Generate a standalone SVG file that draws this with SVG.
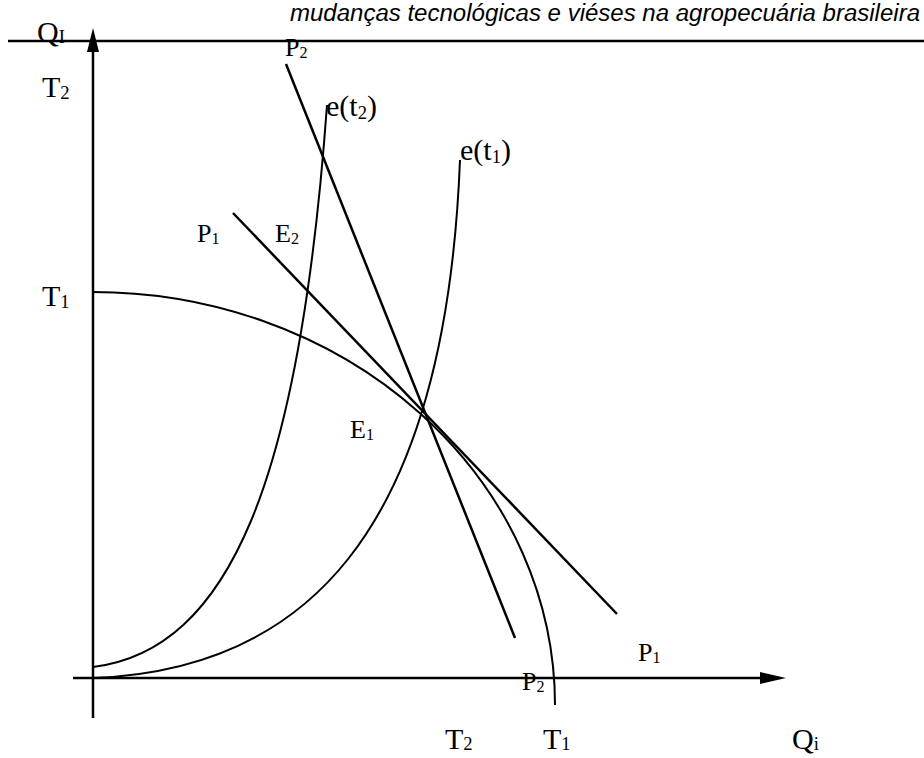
<svg xmlns="http://www.w3.org/2000/svg" width="924" height="758" viewBox="0 0 924 758">
<style>
.ln{fill:none;stroke:#000;stroke-width:2.5}
.cv{fill:none;stroke:#000;stroke-width:2}
.t{font-family:"Liberation Serif","Times New Roman",serif;fill:#000}
.s{font-size:0.62em}
.big{font-size:30px}
.med{font-size:26px}
</style>
<rect width="924" height="758" fill="#fff"/>
<text x="920" y="21" text-anchor="end" font-family="Liberation Sans, Arial, sans-serif" font-style="italic" font-size="23" textLength="630" lengthAdjust="spacingAndGlyphs">mudanças tecnológicas e viéses na agropecuária brasileira</text>
<line x1="8" y1="41" x2="924" y2="41" stroke="#000" stroke-width="2.5"/>
<g id="axes">
<line x1="93" y1="50" x2="93" y2="718" class="ln"/>
<polygon points="93,28 87,52 99,52" fill="#000"/>
<line x1="73" y1="678" x2="762" y2="678" class="ln"/>
<polygon points="786,678 760,672 760,684" fill="#000"/>
</g>
<g id="connectors">
<path id="T1curve" class="cv" d="M93,292 A462,413 0 0 1 555,705"/>
<path id="et2" class="cv" d="M93,667 C230,650 300,480 327,105"/>
<path id="et1" class="cv" d="M93,678 C300,670 445,540 460,160"/>
<line id="P2line" x1="286" y1="64" x2="515" y2="638" class="ln"/>
<line id="P1line" x1="233" y1="213" x2="617" y2="614" class="ln"/>
</g>
<g id="labels" class="t">
<text x="37" y="42" class="big">Q<tspan class="s" dy="1">I</tspan></text>
<text x="42" y="97" class="big">T<tspan class="s" dy="2">2</tspan></text>
<text x="42" y="306" class="big">T<tspan class="s" dy="2">1</tspan></text>
<text x="285" y="56" class="med">P<tspan class="s" dy="2">2</tspan></text>
<text x="326" y="116" class="big">e(t<tspan class="s" dy="3">2</tspan><tspan dy="-3">)</tspan></text>
<text x="460" y="160" class="big">e(t<tspan class="s" dy="3">1</tspan><tspan dy="-3">)</tspan></text>
<text x="197" y="242" class="med">P<tspan class="s" dy="2">1</tspan></text>
<text x="275" y="242" class="med">E<tspan class="s" dy="2">2</tspan></text>
<text x="350" y="438" class="med">E<tspan class="s" dy="2">1</tspan></text>
<text x="638" y="661" class="med">P<tspan class="s" dy="2">1</tspan></text>
<text x="522" y="690" class="med">P<tspan class="s" dy="2">2</tspan></text>
<text x="445" y="749" class="big">T<tspan class="s" dy="1">2</tspan></text>
<text x="543" y="749" class="big">T<tspan class="s" dy="1">1</tspan></text>
<text x="792" y="749" class="big">Q<tspan class="s" dy="1">i</tspan></text>
</g>
</svg>
